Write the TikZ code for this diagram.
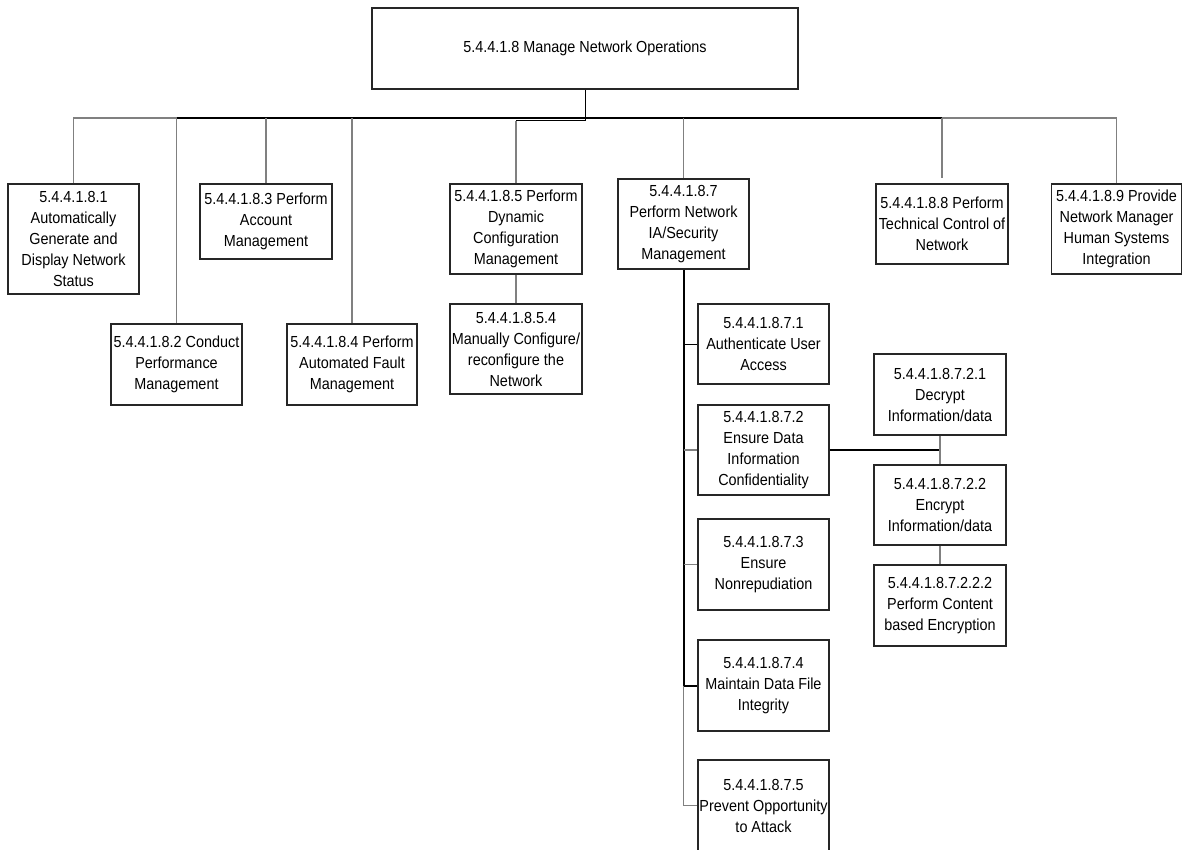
\documentclass[tikz,border=0pt]{standalone}
\usepackage{fontspec}
\setmainfont{Liberation Sans}[FakeStretch=0.9]
\begin{document}
\begin{tikzpicture}[x=1pt,y=-1pt,
  box/.style={draw=black!85,line width=1.3pt,fill=white,rectangle,inner sep=0pt,
    align=center,font={\fontsize{16}{21}\selectfont}},
  thinline/.style={draw=black!50,line width=1.1pt},
  darkline/.style={draw=black,line width=1pt},
  thickline/.style={draw=black,line width=2pt}]
\useasboundingbox (0,0) rectangle (1182,850);

% root
\node[box,minimum width=426,minimum height=81] (top) at (585,48.5) {5.4.4.1.8 Manage Network Operations};

% first level
\node[box,minimum width=131,minimum height=110] (n1) at (73.5,239) {5.4.4.1.8.1\\Automatically\\Generate and\\Display Network\\Status};
\node[box,minimum width=131,minimum height=81] (n2) at (176.5,364.5) {5.4.4.1.8.2 Conduct\\Performance\\Management};
\node[box,minimum width=132,minimum height=75] (n3) at (266,221.5) {5.4.4.1.8.3 Perform\\Account\\Management};
\node[box,minimum width=130,minimum height=81] (n4) at (352,364.5) {5.4.4.1.8.4 Perform\\Automated Fault\\Management};
\node[box,minimum width=132,minimum height=90] (n5) at (516,229) {5.4.4.1.8.5 Perform\\Dynamic\\Configuration\\Management};
\node[box,minimum width=132,minimum height=90] (n54) at (516,349) {5.4.4.1.8.5.4\\Manually Configure/\\reconfigure the\\Network};
\node[box,minimum width=131,minimum height=90] (n7) at (683.5,224) {5.4.4.1.8.7\\Perform Network\\IA/Security\\Management};
\node[box,minimum width=132,minimum height=80] (n8) at (942,224) {5.4.4.1.8.8 Perform\\Technical Control of\\Network};
\node[box,minimum width=130,minimum height=90] (n9) at (1116.5,229) {5.4.4.1.8.9 Provide\\Network Manager\\Human Systems\\Integration};

% security branch
\node[box,minimum width=131,minimum height=80] (n71) at (763.5,344) {5.4.4.1.8.7.1\\Authenticate User\\Access};
\node[box,minimum width=131,minimum height=90] (n72) at (763.5,450) {5.4.4.1.8.7.2\\Ensure Data\\Information\\Confidentiality};
\node[box,minimum width=131,minimum height=91] (n73) at (763.5,564.5) {5.4.4.1.8.7.3\\Ensure\\Nonrepudiation};
\node[box,minimum width=131,minimum height=91] (n74) at (763.5,685.5) {5.4.4.1.8.7.4\\Maintain Data File\\Integrity};
\node[box,minimum width=131,minimum height=91] (n75) at (763.5,805.5) {5.4.4.1.8.7.5\\Prevent Opportunity\\to Attack};

% confidentiality branch
\node[box,minimum width=132,minimum height=81] (n721) at (940,394.5) {5.4.4.1.8.7.2.1\\Decrypt\\Information/data};
\node[box,minimum width=132,minimum height=80] (n722) at (940,505) {5.4.4.1.8.7.2.2\\Encrypt\\Information/data};
\node[box,minimum width=132,minimum height=81] (n7222) at (940,605.5) {5.4.4.1.8.7.2.2.2\\Perform Content\\based Encryption};

% bus levels
\coordinate (bus) at (0,118);
\coordinate (jog) at (0,121);

% root drop and jog to 5.4.4.1.8.5
\draw[darkline] (top.south) -- (top.south |- jog) -- (n5.north |- jog);
\draw[thinline] (n5.north |- jog) -- (n5.north);
\draw[thinline] (n5.south) -- (n54.north);

% horizontal bus
\draw[thinline] (n1.north) -- (n1.north |- bus) -- (n2.north |- bus);
\draw[thinline] (n9.north) -- (n9.north |- bus) -- (n8.north |- bus);
\draw[thickline] (n2.north |- bus) -- (n8.north |- bus);
\draw[thinline] (n2.north |- bus) -- (n2.north);
\draw[thinline] (n3.north |- bus) -- (n3.north);
\draw[thinline] (n4.north |- bus) -- (n4.north);
\draw[thinline] (n7.north |- bus) -- (n7.north);
\draw[thinline] (n8.north |- bus) -- ([yshift=5pt]n8.north);

% security trunk
\draw[thickline] (n7.south) -- (n7.south |- n74.west) -- (n74.west);
\draw[thinline] (n7.south |- n74.west) -- (n7.south |- n75.west) -- (n75.west);
\draw[darkline] (n7.south |- n71.west) -- (n71.west);
\draw[thinline] (n7.south |- n72.west) -- (n72.west);
\draw[thinline] (n7.south |- n73.west) -- (n73.west);

% confidentiality branch links
\draw[thickline] (n72.east) -- (n721.south |- n72.east);
\draw[thinline] (n721.south) -- (n722.north);
\draw[thinline] (n722.south) -- (n7222.north);
\end{tikzpicture}
\end{document}
